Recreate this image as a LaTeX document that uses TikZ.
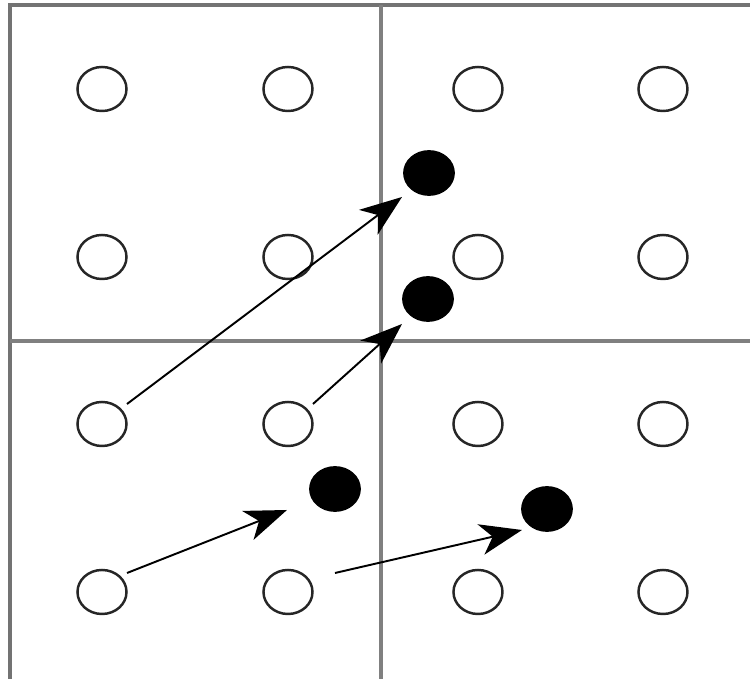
\documentclass[tikz,border=0pt]{standalone}
\usetikzlibrary{shapes.geometric,arrows.meta,calc}
\begin{document}
\begin{tikzpicture}[x=0.01cm,y=-0.01cm,
  gridline/.style={draw=black!50,line width=0.9pt},
  border/.style={draw=black!55,line width=1.2pt},
  opendot/.style={ellipse,draw=black!85,line width=0.7pt,fill=white,minimum width=0.49cm,minimum height=0.44cm,inner sep=0pt},
  fulldot/.style={ellipse,draw=black,fill=black,line width=0.5pt,minimum width=0.5cm,minimum height=0.44cm,inner sep=0pt},
  mover/.style={draw=black,line width=0.55pt,-{Stealth[length=4.2mm,width=3.1mm,inset=1.2mm]}}]
\useasboundingbox (0,0) rectangle (750,679);
% frame and cell boundaries
\coordinate (tl) at (10,5);
\coordinate (tr) at (750,5);
\coordinate (bl) at (10,679);
\coordinate (vt) at (381,5);
\coordinate (vb) at (381,679);
\coordinate (hl) at (10,341);
\coordinate (hr) at (750,341);
\draw[border] (tr) -- (tl) -- (bl);
\draw[gridline] (vt) -- (vb);
\draw[gridline] (hl) -- (hr);
% open lattice points
\foreach \c/\x in {1/102,2/288,3/478,4/663}{
  \foreach \r/\y in {1/89,2/257,3/424,4/592}{
    \node[opendot] (o\c\r) at (\x,\y) {};
  }
}
% filled (displaced) points
\node[fulldot] (f1) at (429,173) {};
\node[fulldot] (f2) at (428,299) {};
\node[fulldot] (f3) at (335,489) {};
\node[fulldot] (f4) at (547,509) {};
% arrow end points
\coordinate (s1) at ($(o13)+(25,-20)$);
\coordinate (e1) at ($(f1)+(-27,24)$);
\coordinate (s2) at ($(o23)+(25,-20)$);
\coordinate (e2) at ($(f2)+(-26,25)$);
\coordinate (s3) at ($(o14)+(25,-19)$);
\coordinate (e3) at ($(f3)+(-48,21)$);
\coordinate (s4) at ($(o24)+(47,-19)$);
\coordinate (e4) at ($(f4)+(-25,21)$);
\draw[mover] (s1) -- (e1);
\draw[mover] (s2) -- (e2);
\draw[mover] (s3) -- (e3);
\draw[mover] (s4) -- (e4);
\end{tikzpicture}
\end{document}
